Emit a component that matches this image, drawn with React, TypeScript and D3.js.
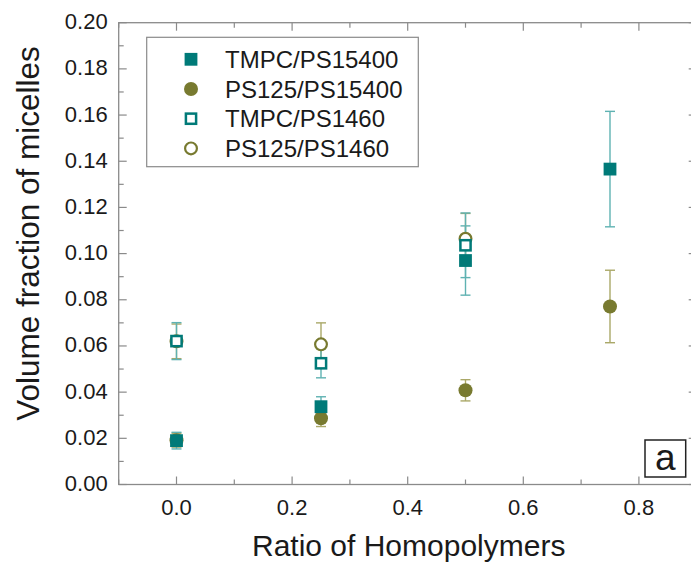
import React from "react";
import * as d3 from "d3";

// ---------- data ----------
const seriesNames = ["TMPC/PS15400", "PS125/PS15400", "TMPC/PS1460", "PS125/PS1460"];

const xTmpc15400 = [0, 0.25, 0.5, 0.75];
const yTmpc15400 = [0.019, 0.0337, 0.097, 0.1366];
const eTmpc15400 = [0.0036, 0.0043, 0.015, 0.025];

const xPs15400 = [0, 0.25, 0.5, 0.75];
const yPs15400 = [0.0192, 0.0287, 0.0408, 0.0771];
const ePs15400 = [0.003, 0.0036, 0.0046, 0.0157];

const xTmpc1460 = [0, 0.25, 0.5];
const yTmpc1460 = [0.0621, 0.0525, 0.1036];
const eTmpc1460 = [0.008, 0.0063, 0.014];

const xPs1460 = [0, 0.25, 0.5];
const yPs1460 = [0.062, 0.0607, 0.1064];
const ePs1460 = [0.0075, 0.0093, 0.011];

const xTickLabels = ["0.0", "0.2", "0.4", "0.6", "0.8"];
const yTickLabels = ["0.00", "0.02", "0.04", "0.06", "0.08", "0.10", "0.12", "0.14", "0.16", "0.18", "0.20"];

const TEAL = "#007a78";
const OLIVE = "#787a30";
const TEAL_ERR = "#5fb2b2";
const OLIVE_ERR = "#aaa868";
const AXIS = "#8a8a8a";
const TEXT = "#1a1a1a";
const FONT = "'Liberation Sans', Arial, Helvetica, sans-serif";

type Shape = "square" | "circle";
interface Series { name: string; xs: number[]; ys: number[]; es: number[]; shape: Shape; filled: boolean; color: string; err: string; }

const series: Series[] = [
  { name: seriesNames[0], xs: xTmpc15400, ys: yTmpc15400, es: eTmpc15400, shape: "square", filled: true, color: TEAL, err: TEAL_ERR },
  { name: seriesNames[1], xs: xPs15400, ys: yPs15400, es: ePs15400, shape: "circle", filled: true, color: OLIVE, err: OLIVE_ERR },
  { name: seriesNames[2], xs: xTmpc1460, ys: yTmpc1460, es: eTmpc1460, shape: "square", filled: false, color: TEAL, err: TEAL_ERR },
  { name: seriesNames[3], xs: xPs1460, ys: yPs1460, es: ePs1460, shape: "circle", filled: false, color: OLIVE, err: OLIVE_ERR },
];
const drawOrder = [1, 0, 3, 2];

// ---------- layout ----------
const W = 691, H = 565;
const left = 118.7, top = 22.7, bottom = 484.5;
const x = d3.scaleLinear().domain([-0.1, 0.9]).range([left, left + 578]);
const y = d3.scaleLinear().domain([0, 0.2]).range([bottom, top]);
const right = x(0.9);

function Marker({ cx, cy, s }: { cx: number; cy: number; s: Series }) {
  if (s.shape === "square") {
    if (s.filled) return <rect x={cx - 6.4} y={cy - 6.4} width={12.8} height={12.8} fill={s.color} />;
    return <rect x={cx - 5.1} y={cy - 5.1} width={10.2} height={10.2} fill="#fff" stroke={s.color} strokeWidth={2.5} />;
  }
  if (s.filled) return <circle cx={cx} cy={cy} r={7} fill={s.color} />;
  return <circle cx={cx} cy={cy} r={5.9} fill="#fff" stroke={s.color} strokeWidth={2.2} />;
}

export default function App() {
  const yMajor = d3.range(0, 11).map((i) => i * 0.02);
  const yMinor = d3.range(0, 10).map((i) => i * 0.02 + 0.01);
  const xMajor = d3.range(0, 5).map((i) => i * 0.2);
  const xMinor = d3.range(0, 6).map((i) => -0.1 + i * 0.2);

  return (
    <svg width={W} height={H} style={{ position: "absolute", left: 0, top: 0 }} fontFamily={FONT}>
      <rect x={0} y={0} width={W} height={H} fill="#fff" />
      {/* frame */}
      <rect x={left} y={top} width={right - left} height={bottom - top} fill="none" stroke={AXIS} strokeWidth={1.3} />
      {/* y ticks */}
      {yMajor.map((v, i) => (
        <g key={"ym" + i}>
          <line x1={left} x2={left + 8} y1={y(v)} y2={y(v)} stroke={AXIS} strokeWidth={1.2} />
          <line x1={right} x2={right - 8} y1={y(v)} y2={y(v)} stroke={AXIS} strokeWidth={1.2} />
          <text x={left - 11} y={y(v) + 6.5} textAnchor="end" fontSize={22} fill={TEXT}>{yTickLabels[i]}</text>
        </g>
      ))}
      {yMinor.map((v, i) => (
        <g key={"yn" + i}>
          <line x1={left} x2={left + 5} y1={y(v)} y2={y(v)} stroke={AXIS} strokeWidth={1.2} />
          <line x1={right} x2={right - 5} y1={y(v)} y2={y(v)} stroke={AXIS} strokeWidth={1.2} />
        </g>
      ))}
      {/* x ticks */}
      {xMajor.map((v, i) => (
        <g key={"xm" + i}>
          <line x1={x(v)} x2={x(v)} y1={bottom} y2={bottom - 8} stroke={AXIS} strokeWidth={1.2} />
          <line x1={x(v)} x2={x(v)} y1={top} y2={top + 8} stroke={AXIS} strokeWidth={1.2} />
          <text x={x(v)} y={bottom + 30} textAnchor="middle" fontSize={22} fill={TEXT}>{xTickLabels[i]}</text>
        </g>
      ))}
      {xMinor.map((v, i) => (
        <g key={"xn" + i}>
          <line x1={x(v)} x2={x(v)} y1={bottom} y2={bottom - 5} stroke={AXIS} strokeWidth={1.2} />
          <line x1={x(v)} x2={x(v)} y1={top} y2={top + 5} stroke={AXIS} strokeWidth={1.2} />
        </g>
      ))}
      {/* axis titles */}
      <text x={x(0.4) + 1} y={556} textAnchor="middle" fontSize={30} fill={TEXT}>Ratio of Homopolymers</text>
      <text transform={`translate(39,233.5) rotate(-90)`} textAnchor="middle" fontSize={31.5} fill={TEXT}>Volume fraction of micelles</text>

      {/* error bars */}
      {drawOrder.map((si) => {
        const s = series[si];
        return (
          <g key={"e" + si}>
            {s.xs.map((xv, i) => {
              const cx = x(xv);
              const y1 = y(s.ys[i] - s.es[i]);
              const y2 = y(s.ys[i] + s.es[i]);
              return (
                <g key={i} stroke={s.err} strokeWidth={1.4}>
                  <line x1={cx} x2={cx} y1={y1} y2={y2} />
                  <line x1={cx - 5} x2={cx + 5} y1={y1} y2={y1} />
                  <line x1={cx - 5} x2={cx + 5} y1={y2} y2={y2} />
                </g>
              );
            })}
          </g>
        );
      })}
      {/* markers */}
      {drawOrder.map((si) => {
        const s = series[si];
        return (
          <g key={"m" + si}>
            {s.xs.map((xv, i) => (
              <Marker key={i} cx={x(xv)} cy={y(s.ys[i])} s={s} />
            ))}
          </g>
        );
      })}

      {/* legend */}
      <rect x={146.7} y={37.3} width={271.6} height={129.4} fill="#fff" stroke={AXIS} strokeWidth={1.2} />
      {series.map((s, i) => {
        const cy = 59.3 + i * 29.7;
        return (
          <g key={"l" + i}>
            <Marker cx={191} cy={cy} s={s} />
            <text x={225} y={cy + 8.5} fontSize={24} fill={TEXT}>{s.name}</text>
          </g>
        );
      })}

      {/* panel label */}
      <rect x={645} y={440} width={40.7} height={37} fill="#fff" stroke="#222" strokeWidth={1.5} />
      <text x={665.3} y={470} textAnchor="middle" fontSize={37} fill={TEXT}>a</text>
    </svg>
  );
}
